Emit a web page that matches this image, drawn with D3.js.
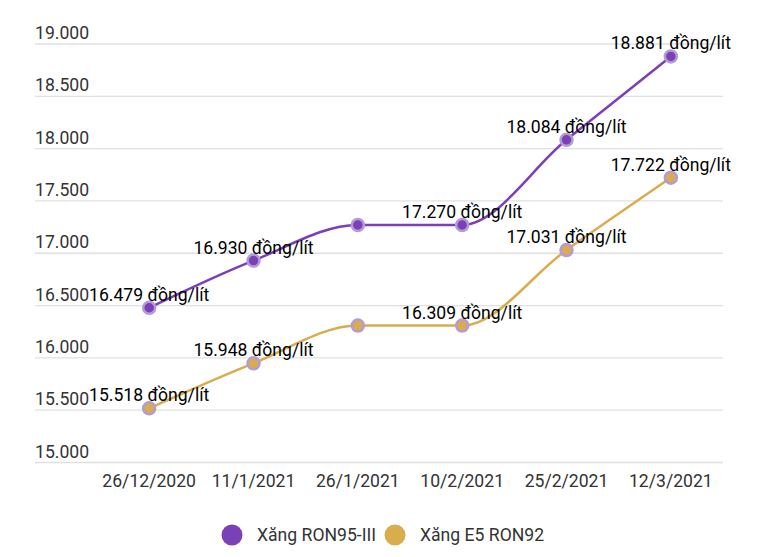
<!DOCTYPE html>
<html>
<head>
<meta charset="utf-8">
<script src="https://cdn.jsdelivr.net/npm/d3@7"></script>
<style>
  body { margin: 0; background: #fff; }
  svg { font-family: Roboto, "Noto Sans", sans-serif; }
</style>
</head>
<body>
<div id="chart"></div>
<script>
// dates on the x axis
var dates = ['26/12/2020', '11/1/2021', '26/1/2021', '10/2/2021', '25/2/2021', '12/3/2021']
// prices in dong per litre
var ron95 = [16479, 16930, 17270, 17270, 18084, 18881]
var e5 = [15518, 15948, 16309, 16309, 17031, 17722]
var yTicks = [15000, 15500, 16000, 16500, 17000, 17500, 18000, 18500, 19000]
// the label at this point is hidden in the original (overlap)
var hiddenLabels = [2]
var seriesNames = ['Xăng RON95-III', 'Xăng E5 RON92']

var width = 770
var height = 557
var purple = '#7b3fb6'
var gold = '#d9ac4e'
var markerStroke = '#b39bd8'
var fontSize = 17.6

var svg = d3.select('#chart')
  .append('svg')
  .attr('width', width)
  .attr('height', height)

var x = d3.scaleBand().domain(dates).range([97, 723])
var y = d3.scaleLinear().domain([15000, 19000]).range([462.5, 44])
var cx = function (d) { return x(d) + x.bandwidth() / 2 }

var fmt = d3.formatLocale({ decimal: ',', thousands: '.', grouping: [3], currency: ['', ''] }).format(',d')

// grid lines and y labels
var grid = svg.append('g')
grid.selectAll('line')
  .data(yTicks)
  .enter()
  .append('line')
  .attr('x1', 35)
  .attr('x2', 723)
  .attr('y1', d => y(d))
  .attr('y2', d => y(d))
  .attr('stroke', '#e0e0e0')
  .attr('stroke-width', 1.3)

grid.selectAll('text')
  .data(yTicks)
  .enter()
  .append('text')
  .attr('x', 35)
  .attr('y', d => y(d) - 5)
  .attr('font-size', fontSize)
  .attr('fill', '#333')
  .text(d => fmt(d))

// x labels
svg.append('g')
  .selectAll('text')
  .data(dates)
  .enter()
  .append('text')
  .attr('x', d => cx(d))
  .attr('y', 487)
  .attr('text-anchor', 'middle')
  .attr('font-size', fontSize)
  .attr('fill', '#333')
  .text(d => d)

var line = d3.line()
  .x((d, i) => cx(dates[i]))
  .y(d => y(d))
  .curve(d3.curveMonotoneX)

function drawSeries(values, color) {
  var g = svg.append('g')
  g.append('path')
    .attr('d', line(values))
    .attr('fill', 'none')
    .attr('stroke', color)
    .attr('stroke-width', 2.5)

  g.selectAll('circle')
    .data(values)
    .enter()
    .append('circle')
    .attr('cx', (d, i) => cx(dates[i]))
    .attr('cy', d => y(d))
    .attr('r', 6)
    .attr('fill', color)
    .attr('stroke', markerStroke)
    .attr('stroke-width', 2.5)
  return g
}

drawSeries(ron95, purple)
drawSeries(e5, gold)

// data labels go on top of everything
function drawLabels(values) {
  svg.append('g')
    .selectAll('text')
    .data(values.map((v, i) => ({ v: v, i: i })).filter(d => hiddenLabels.indexOf(d.i) < 0))
    .enter()
    .append('text')
    .attr('x', d => cx(dates[d.i]))
    .attr('y', d => y(d.v) - 7)
    .attr('text-anchor', 'middle')
    .attr('font-size', fontSize)
    .attr('fill', '#000')
    .text(d => fmt(d.v) + ' đồng/lít')
}
drawLabels(ron95)
drawLabels(e5)

// legend
var legendX = [232, 395]
var legend = svg.append('g')
seriesNames.forEach(function (name, i) {
  legend.append('circle')
    .attr('cx', legendX[i])
    .attr('cy', 535)
    .attr('r', 10.5)
    .attr('fill', i == 0 ? purple : gold)
  legend.append('text')
    .attr('x', legendX[i] + 25)
    .attr('y', 541)
    .attr('font-size', fontSize)
    .attr('fill', '#333')
    .text(name)
})
</script>
</body>
</html>
